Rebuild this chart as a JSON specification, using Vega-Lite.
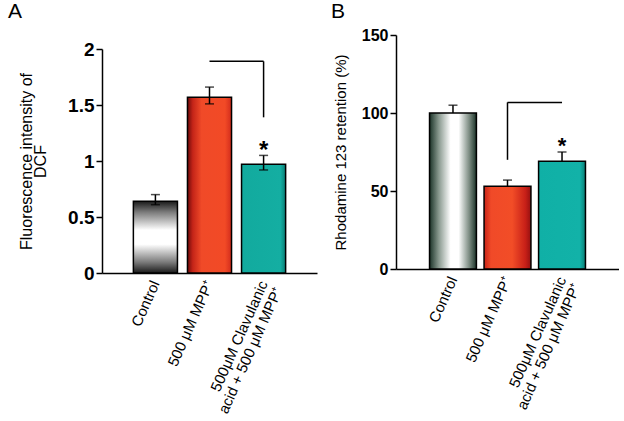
{
  "$schema": "https://vega.github.io/schema/vega-lite/v6.json",
  "background": "white",
  "padding": {"left": 8, "top": 1, "right": 0, "bottom": 0},
  "config": {
    "font": "Liberation Sans",
    "view": {"stroke": null},
    "axis": {"domainColor": "black", "tickColor": "black", "labelColor": "black", "titleColor": "black", "grid": false, "labelFont": "Liberation Sans", "titleFont": "Liberation Sans"}
  },
  "datasets": {
    "a": [
      {"group": "Control", "value": 0.64, "lo": 0.61, "hi": 0.70},
      {"group": "500 μM MPP⁺", "value": 1.57, "lo": 1.51, "hi": 1.66},
      {"group": "500μM Clavulanic|acid + 500 μM MPP⁺", "value": 0.97, "lo": 0.92, "hi": 1.05}
    ],
    "b": [
      {"group": "Control", "value": 100, "lo": 100, "hi": 105},
      {"group": "500 μM MPP⁺", "value": 53, "lo": 53, "hi": 57},
      {"group": "500μM Clavulanic|acid + 500 μM MPP⁺", "value": 69, "lo": 69, "hi": 75}
    ],
    "abr": [
      {"from": "500 μM MPP⁺", "to": "500μM Clavulanic|acid + 500 μM MPP⁺", "y": 1.89, "y2": 1.89},
      {"from": "500μM Clavulanic|acid + 500 μM MPP⁺", "to": "500μM Clavulanic|acid + 500 μM MPP⁺", "y": 1.89, "y2": 1.39}
    ],
    "bbr": [
      {"from": "500 μM MPP⁺", "to": "500μM Clavulanic|acid + 500 μM MPP⁺", "y": 106.8, "y2": 106.8},
      {"from": "500 μM MPP⁺", "to": "500 μM MPP⁺", "y": 106.8, "y2": 70}
    ],
    "astar": [{"group": "500μM Clavulanic|acid + 500 μM MPP⁺", "y": 1.03, "t": "*"}],
    "bstar": [{"group": "500μM Clavulanic|acid + 500 μM MPP⁺", "y": 74.5, "t": "*"}]
  },
  "spacing": 14,
  "hconcat": [
    {
      "width": 215,
      "height": 238,
      "title": {"text": "A", "anchor": "start", "frame": "group", "dx": -94, "offset": 13, "fontSize": 21, "fontWeight": "normal", "color": "black"},
      "encoding": {
        "x": {"field": "group", "type": "nominal", "sort": null,
          "scale": {"domain": ["Control", "500 μM MPP⁺", "500μM Clavulanic|acid + 500 μM MPP⁺"], "paddingInner": 0.185, "paddingOuter": 0.58},
          "axis": {"title": null, "ticks": false, "labelAngle": -66, "labelFontSize": 15, "labelPadding": 8, "domainWidth": 1.5, "labelExpr": "split(datum.label, '|')", "labelLineHeight": 16}}
      },
      "layer": [
        {
          "data": {"name": "a"},
          "transform": [{"filter": "datum.group == 'Control'"}],
          "mark": {"type": "bar", "stroke": "black", "strokeWidth": 1.5,
            "color": {"gradient": "linear", "x1": 0, "y1": 0, "x2": 0, "y2": 1, "stops": [
              {"offset": 0, "color": "#1a1a1a"}, {"offset": 0.15, "color": "#7a7a7a"}, {"offset": 0.4, "color": "#ffffff"}, {"offset": 0.6, "color": "#ffffff"}, {"offset": 0.85, "color": "#7a7a7a"}, {"offset": 1, "color": "#1a1a1a"}]}},
          "encoding": {
            "y": {"field": "value", "type": "quantitative",
              "scale": {"domain": [0, 2], "nice": false, "range": [238, 14]},
              "axis": {"values": [0, 0.5, 1, 1.5, 2], "format": "~g", "labelFontSize": 19, "labelFontWeight": "bold", "labelPadding": 2, "tickSize": 6, "domainWidth": 1.5, "tickWidth": 1.5,
                "title": ["Fluorescence intensity of", "DCF"], "titleFontSize": 16, "titleFontWeight": "normal", "titlePadding": 19, "titleLineHeight": 14}}
          }
        },
        {
          "data": {"name": "a"},
          "transform": [{"filter": "datum.group == '500 μM MPP⁺'"}],
          "mark": {"type": "bar", "stroke": "black", "strokeWidth": 1.5,
            "color": {"gradient": "linear", "x1": 0, "y1": 0, "x2": 1, "y2": 0, "stops": [
              {"offset": 0, "color": "#6e0a0a"}, {"offset": 0.12, "color": "#c42418"}, {"offset": 0.32, "color": "#f04a28"}, {"offset": 0.85, "color": "#f24a26"}, {"offset": 1, "color": "#d22c1c"}]}},
          "encoding": {"y": {"field": "value", "type": "quantitative"}}
        },
        {
          "data": {"name": "a"},
          "transform": [{"filter": "datum.group != 'Control' && datum.group != '500 μM MPP⁺'"}],
          "mark": {"type": "bar", "stroke": "black", "strokeWidth": 1.5,
            "color": {"gradient": "linear", "x1": 0, "y1": 0, "x2": 1, "y2": 0, "stops": [
              {"offset": 0, "color": "#12aa9e"}, {"offset": 0.88, "color": "#14aea2"}, {"offset": 1, "color": "#0a7c74"}]}},
          "encoding": {"y": {"field": "value", "type": "quantitative"}}
        },
        {
          "data": {"name": "a"},
          "mark": {"type": "rule", "color": "black", "strokeWidth": 1.5},
          "encoding": {"y": {"field": "lo", "type": "quantitative"}, "y2": {"field": "hi"}}
        },
        {
          "data": {"name": "a"},
          "mark": {"type": "tick", "color": "black", "thickness": 1.5, "size": 9},
          "encoding": {"y": {"field": "hi", "type": "quantitative"}}
        },
        {
          "data": {"name": "a"},
          "mark": {"type": "tick", "color": "black", "thickness": 1.5, "size": 9},
          "encoding": {"y": {"field": "lo", "type": "quantitative"}}
        },
        {
          "data": {"name": "abr"},
          "mark": {"type": "rule", "color": "black", "strokeWidth": 1.5},
          "encoding": {
            "x": {"field": "from", "type": "nominal", "bandPosition": 0.5},
            "x2": {"field": "to", "bandPosition": 0.5},
            "y": {"field": "y", "type": "quantitative"},
            "y2": {"field": "y2"}
          }
        },
        {
          "data": {"name": "astar"},
          "mark": {"type": "text", "fontSize": 24, "fontWeight": "bold", "baseline": "alphabetic", "color": "black"},
          "encoding": {
            "x": {"field": "group", "type": "nominal"},
            "y": {"field": "y", "type": "quantitative"},
            "text": {"field": "t"}
          }
        }
      ]
    },
    {
      "width": 223,
      "height": 234,
      "title": {"text": "B", "anchor": "start", "frame": "group", "dx": -65, "offset": 5, "fontSize": 21, "fontWeight": "normal", "color": "black"},
      "encoding": {
        "x": {"field": "group", "type": "nominal", "sort": null,
          "scale": {"domain": ["Control", "500 μM MPP⁺", "500μM Clavulanic|acid + 500 μM MPP⁺"], "paddingInner": 0.14, "paddingOuter": 0.615},
          "axis": {"title": null, "ticks": false, "labelAngle": -66, "labelFontSize": 15, "labelPadding": 8, "domainWidth": 1.5, "labelExpr": "split(datum.label, '|')", "labelLineHeight": 16}}
      },
      "layer": [
        {
          "data": {"name": "b"},
          "transform": [{"filter": "datum.group == 'Control'"}],
          "mark": {"type": "bar", "stroke": "black", "strokeWidth": 1.5,
            "color": {"gradient": "linear", "x1": 0, "y1": 0, "x2": 1, "y2": 0, "stops": [
              {"offset": 0, "color": "#1b3328"}, {"offset": 0.2, "color": "#8a9a90"}, {"offset": 0.45, "color": "#ffffff"}, {"offset": 0.62, "color": "#ffffff"}, {"offset": 0.85, "color": "#7a8a80"}, {"offset": 1, "color": "#1b3328"}]}},
          "encoding": {
            "y": {"field": "value", "type": "quantitative",
              "scale": {"domain": [0, 150], "nice": false},
              "axis": {"values": [0, 50, 100, 150], "labelFontSize": 16, "labelFontWeight": "bold", "labelPadding": 2, "tickSize": 6, "domainWidth": 1.5, "tickWidth": 1.5,
                "title": "Rhodamine 123 retention (%)", "titleFontSize": 15, "titleFontWeight": "normal", "titlePadding": 13}}
          }
        },
        {
          "data": {"name": "b"},
          "transform": [{"filter": "datum.group == '500 μM MPP⁺'"}],
          "mark": {"type": "bar", "stroke": "black", "strokeWidth": 1.5,
            "color": {"gradient": "linear", "x1": 0, "y1": 0, "x2": 1, "y2": 0, "stops": [
              {"offset": 0, "color": "#c82418"}, {"offset": 0.15, "color": "#f04a28"}, {"offset": 0.6, "color": "#f24d27"}, {"offset": 0.88, "color": "#c82018"}, {"offset": 1, "color": "#961010"}]}},
          "encoding": {"y": {"field": "value", "type": "quantitative"}}
        },
        {
          "data": {"name": "b"},
          "transform": [{"filter": "datum.group != 'Control' && datum.group != '500 μM MPP⁺'"}],
          "mark": {"type": "bar", "stroke": "black", "strokeWidth": 1.5,
            "color": {"gradient": "linear", "x1": 0, "y1": 0, "x2": 1, "y2": 0, "stops": [
              {"offset": 0, "color": "#10b0a6"}, {"offset": 0.88, "color": "#12b2a8"}, {"offset": 1, "color": "#0a7c74"}]}},
          "encoding": {"y": {"field": "value", "type": "quantitative"}}
        },
        {
          "data": {"name": "b"},
          "mark": {"type": "rule", "color": "black", "strokeWidth": 1.5},
          "encoding": {"y": {"field": "lo", "type": "quantitative"}, "y2": {"field": "hi"}}
        },
        {
          "data": {"name": "b"},
          "mark": {"type": "tick", "color": "black", "thickness": 1.5, "size": 9},
          "encoding": {"y": {"field": "hi", "type": "quantitative"}}
        },
        {
          "data": {"name": "bbr"},
          "mark": {"type": "rule", "color": "black", "strokeWidth": 1.5},
          "encoding": {
            "x": {"field": "from", "type": "nominal", "bandPosition": 0.5},
            "x2": {"field": "to", "bandPosition": 0.5},
            "y": {"field": "y", "type": "quantitative"},
            "y2": {"field": "y2"}
          }
        },
        {
          "data": {"name": "bstar"},
          "mark": {"type": "text", "fontSize": 22, "fontWeight": "bold", "baseline": "alphabetic", "color": "black"},
          "encoding": {
            "x": {"field": "group", "type": "nominal"},
            "y": {"field": "y", "type": "quantitative"},
            "text": {"field": "t"}
          }
        }
      ]
    }
  ]
}
